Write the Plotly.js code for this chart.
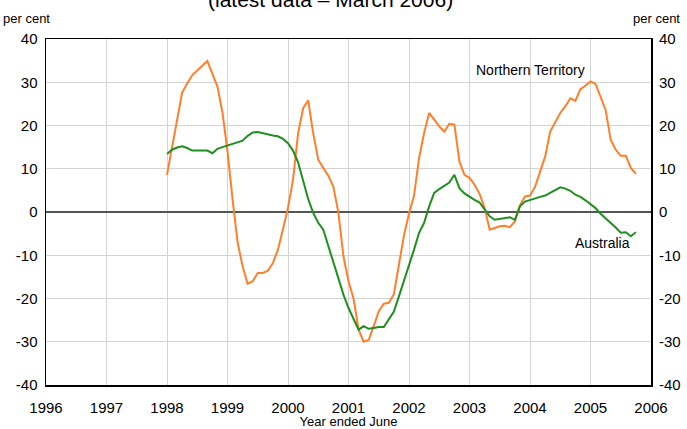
<!DOCTYPE html>
<html>
<head>
<meta charset="utf-8">
<script src="https://cdn.plot.ly/plotly-3.0.1.min.js"></script>
<style>html,body{margin:0;padding:0;background:#fff;}#chart{width:687px;height:429px;}</style>
</head>
<body>
<div id="chart"></div>
<script>
// Monthly observations, first point = 1998.0 on the axis, one per month
const startYear = 1998;
const northernTerritory = [
  8.6, 14.9, 21.3, 27.6, 29.7, 31.6, 32.7, 33.8, 34.9, 32.0, 29.0, 23.0,
  14.0, 3.0, -7.0, -12.6, -16.6, -16.0, -14.1, -14.1, -13.6, -11.8, -8.7, -4.0,
  1.0, 7.5, 18.2, 24.0, 25.8, 18.2, 12.1, 10.2, 8.4, 5.8, -0.2, -10.3,
  -16.0, -20.0, -27.2, -30.0, -29.6, -26.4, -23.0, -21.2, -21.0, -19.0, -11.8, -5.4,
  -0.4, 3.8, 12.5, 18.3, 22.9, 21.3, 19.8, 18.6, 20.4, 20.2, 11.7, 8.6,
  7.9, 6.3, 4.2, 0.9, -4.1, -3.7, -3.3, -3.2, -3.5, -2.2, 1.5, 3.6,
  3.8, 5.8, 9.2, 12.8, 18.6, 20.9, 22.9, 24.4, 26.3, 25.7, 28.4, 29.2,
  30.2, 29.6, 26.7, 23.6, 16.7, 14.4, 13.0, 13.0, 10.2, 8.8
];
const australia = [
  13.4, 14.4, 14.9, 15.2, 14.8, 14.2, 14.2, 14.2, 14.2, 13.6, 14.6, 15.0,
  15.4, 15.8, 16.2, 16.5, 17.6, 18.4, 18.5, 18.2, 18.0, 17.7, 17.5, 16.9,
  15.9, 14.2, 11.5, 7.3, 3.0, -0.2, -2.5, -4.1, -7.9, -11.8, -15.6, -19.1,
  -22.2, -24.9, -27.2, -26.4, -27.0, -26.8, -26.6, -26.6, -24.8, -23.0, -19.5, -16.0,
  -12.6, -8.7, -4.8, -2.5, 1.3, 4.4, 5.3, 6.1, 6.8, 8.6, 5.5, 4.3,
  3.5, 2.8, 2.2, 0.6, -1.0, -1.8, -1.6, -1.4, -1.2, -1.8, 1.3, 2.4,
  2.8, 3.2, 3.5, 3.8, 4.5, 5.0, 5.7, 5.4, 4.9, 4.0, 3.5, 2.7,
  1.9, 0.9, -0.4, -1.4, -2.5, -3.6, -4.8, -4.7, -5.6, -4.7
];
const xTicks = [1996, 1997, 1998, 1999, 2000, 2001, 2002, 2003, 2004, 2005, 2006];
const xTickLabels = ['1996','1997','1998','1999','2000','2001','2002','2003','2004','2005','2006'];
const yTicks = [-40, -30, -20, -10, 0, 10, 20, 30, 40];
const yTickLabels = ['-40','-30','-20','-10','0','10','20','30','40'];
const seriesNames = ['Northern Territory', 'Australia'];

const xs = northernTerritory.map((_, i) => startYear + i / 12);

const font = 'Liberation Sans, Arial, sans-serif';
const traces = [
  {x: xs, y: northernTerritory, name: seriesNames[0], type: 'scatter', mode: 'lines',
   line: {color: '#ff7f2a', width: 2}},
  {x: xs, y: australia, name: seriesNames[1], type: 'scatter', mode: 'lines',
   line: {color: '#1f8f1f', width: 2}},
  {x: [xs[0]], y: [0], yaxis: 'y2', mode: 'markers', marker: {opacity: 0}, showlegend: false, hoverinfo: 'skip'}
];

const layout = {
  width: 687, height: 429,
  margin: {l: 46, r: 36, t: 39, b: 44},
  showlegend: false,
  paper_bgcolor: '#fff', plot_bgcolor: '#fff',
  font: {family: font, color: '#000', size: 15},
  xaxis: {
    range: [1996, 2006], tickvals: xTicks, ticktext: xTickLabels,
    showgrid: true, gridcolor: '#d4d4d4', gridwidth: 1,
    showline: true, linecolor: '#000', linewidth: 1.5, mirror: true,
    ticks: 'outside', ticklen: 8, tickcolor: 'rgba(0,0,0,0)',
    tickfont: {size: 15, family: font}, zeroline: false,
    title: {text: 'Year ended June', font: {size: 13, family: font}, standoff: 2}
  },
  yaxis: {
    range: [-40, 40], tickvals: yTicks, ticktext: yTickLabels,
    showgrid: true, gridcolor: '#d4d4d4', gridwidth: 1,
    showline: true, linecolor: '#000', linewidth: 1.5, mirror: true,
    zeroline: true, zerolinecolor: '#555', zerolinewidth: 1.5,
    ticks: 'outside', ticklen: 4, tickcolor: 'rgba(0,0,0,0)',
    tickfont: {size: 15, family: font}
  },
  yaxis2: {
    range: [-40, 40], tickvals: yTicks, ticktext: yTickLabels,
    overlaying: 'y', side: 'right', showgrid: false, zeroline: false, showline: false,
    ticks: 'outside', ticklen: 4, tickcolor: 'rgba(0,0,0,0)',
    tickfont: {size: 15, family: font}
  },
  annotations: [
    {text: '(latest data – March 2006)', xref: 'paper', yref: 'paper', x: 0.47, y: 1.115,
     xanchor: 'center', yanchor: 'middle', showarrow: false, font: {size: 21, family: font}},
    {text: 'per cent', xref: 'paper', yref: 'paper', x: -0.075, y: 1.058,
     xanchor: 'left', yanchor: 'middle', showarrow: false, font: {size: 13, family: font}},
    {text: 'per cent', xref: 'paper', yref: 'paper', x: 1.052, y: 1.058,
     xanchor: 'right', yanchor: 'middle', showarrow: false, font: {size: 13, family: font}},
    {text: seriesNames[0], xref: 'x', yref: 'y', x: 2004.0, y: 32.8,
     xanchor: 'center', yanchor: 'middle', showarrow: false, font: {size: 14, family: font}},
    {text: seriesNames[1], xref: 'x', yref: 'y', x: 2005.2, y: -7.2,
     xanchor: 'center', yanchor: 'middle', showarrow: false, font: {size: 14, family: font}}
  ]
};

Plotly.newPlot('chart', traces, layout, {staticPlot: true, displayModeBar: false});
</script>
</body>
</html>
